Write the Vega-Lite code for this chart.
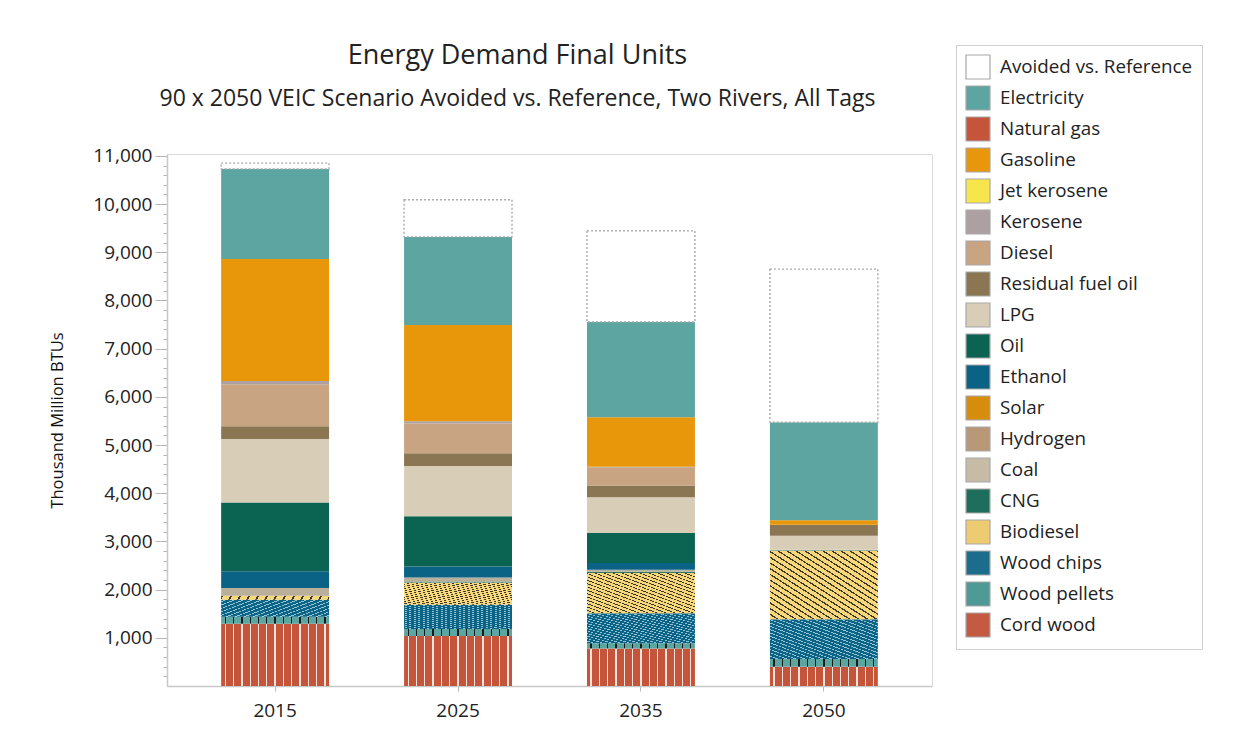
{
  "$schema": "https://vega.github.io/schema/vega-lite/v6.json",
  "autosize": {"type": "none"},
  "width": 765,
  "height": 532,
  "padding": {"left": 167, "top": 154, "right": 320, "bottom": 62},
  "background": "#ffffff",
  "config": {
    "font": "Open Sans",
    "view": {"stroke": "#dadada", "strokeWidth": 1}
  },
  "title": {
    "text": "Energy Demand Final Units",
    "subtitle": "90 x 2050 VEIC Scenario Avoided vs. Reference, Two Rivers, All Tags",
    "font": "Open Sans",
    "subtitleFont": "Open Sans",
    "fontSize": 27,
    "subtitleFontSize": 23,
    "fontWeight": "normal",
    "color": "#222222",
    "subtitleColor": "#222222",
    "anchor": "middle",
    "dx": -32,
    "offset": -67,
    "subtitlePadding": 18
  },
  "data": {
    "values": [
      {"year": "2015", "fuel": "Cord wood", "value": 1290},
      {"year": "2015", "fuel": "Wood pellets", "value": 145},
      {"year": "2015", "fuel": "Wood chips", "value": 353},
      {"year": "2015", "fuel": "Biodiesel", "value": 85},
      {"year": "2015", "fuel": "Coal", "value": 160},
      {"year": "2015", "fuel": "Ethanol", "value": 347},
      {"year": "2015", "fuel": "Oil", "value": 1428},
      {"year": "2015", "fuel": "LPG", "value": 1317},
      {"year": "2015", "fuel": "Residual fuel oil", "value": 263},
      {"year": "2015", "fuel": "Diesel", "value": 873},
      {"year": "2015", "fuel": "Kerosene", "value": 70},
      {"year": "2015", "fuel": "Gasoline", "value": 2530},
      {"year": "2015", "fuel": "Electricity", "value": 1871},
      {"year": "2015", "fuel": "Avoided vs. Reference", "value": 118},
      {"year": "2025", "fuel": "Cord wood", "value": 1040},
      {"year": "2025", "fuel": "Wood pellets", "value": 145},
      {"year": "2025", "fuel": "Wood chips", "value": 499},
      {"year": "2025", "fuel": "Biodiesel", "value": 464},
      {"year": "2025", "fuel": "CNG", "value": 21},
      {"year": "2025", "fuel": "Coal", "value": 83},
      {"year": "2025", "fuel": "Ethanol", "value": 229},
      {"year": "2025", "fuel": "Oil", "value": 1040},
      {"year": "2025", "fuel": "LPG", "value": 1046},
      {"year": "2025", "fuel": "Residual fuel oil", "value": 263},
      {"year": "2025", "fuel": "Diesel", "value": 617},
      {"year": "2025", "fuel": "Kerosene", "value": 48},
      {"year": "2025", "fuel": "Gasoline", "value": 1996},
      {"year": "2025", "fuel": "Electricity", "value": 1830},
      {"year": "2025", "fuel": "Avoided vs. Reference", "value": 769},
      {"year": "2035", "fuel": "Cord wood", "value": 776},
      {"year": "2035", "fuel": "Wood pellets", "value": 111},
      {"year": "2035", "fuel": "Wood chips", "value": 624},
      {"year": "2035", "fuel": "Biodiesel", "value": 832},
      {"year": "2035", "fuel": "CNG", "value": 30},
      {"year": "2035", "fuel": "Coal", "value": 40},
      {"year": "2035", "fuel": "Ethanol", "value": 139},
      {"year": "2035", "fuel": "Oil", "value": 624},
      {"year": "2035", "fuel": "LPG", "value": 742},
      {"year": "2035", "fuel": "Residual fuel oil", "value": 243},
      {"year": "2035", "fuel": "Diesel", "value": 381},
      {"year": "2035", "fuel": "Kerosene", "value": 10},
      {"year": "2035", "fuel": "Gasoline", "value": 1027},
      {"year": "2035", "fuel": "Electricity", "value": 1975},
      {"year": "2035", "fuel": "Avoided vs. Reference", "value": 1890},
      {"year": "2050", "fuel": "Cord wood", "value": 401},
      {"year": "2050", "fuel": "Wood pellets", "value": 160},
      {"year": "2050", "fuel": "Wood chips", "value": 825},
      {"year": "2050", "fuel": "Biodiesel", "value": 1421},
      {"year": "2050", "fuel": "CNG", "value": 10},
      {"year": "2050", "fuel": "Coal", "value": 11},
      {"year": "2050", "fuel": "LPG", "value": 291},
      {"year": "2050", "fuel": "Residual fuel oil", "value": 229},
      {"year": "2050", "fuel": "Gasoline", "value": 90},
      {"year": "2050", "fuel": "Electricity", "value": 2037},
      {"year": "2050", "fuel": "Avoided vs. Reference", "value": 3175}
    ]
  },
  "transform": [
    {
      "lookup": "fuel",
      "from": {
        "data": {
          "values": [
            {"fuel": "Cord wood", "rank": 1},
            {"fuel": "Wood pellets", "rank": 2},
            {"fuel": "Wood chips", "rank": 3},
            {"fuel": "Biodiesel", "rank": 4},
            {"fuel": "CNG", "rank": 5},
            {"fuel": "Coal", "rank": 6},
            {"fuel": "Hydrogen", "rank": 7},
            {"fuel": "Solar", "rank": 8},
            {"fuel": "Ethanol", "rank": 9},
            {"fuel": "Oil", "rank": 10},
            {"fuel": "LPG", "rank": 11},
            {"fuel": "Residual fuel oil", "rank": 12},
            {"fuel": "Diesel", "rank": 13},
            {"fuel": "Kerosene", "rank": 14},
            {"fuel": "Jet kerosene", "rank": 15},
            {"fuel": "Gasoline", "rank": 16},
            {"fuel": "Natural gas", "rank": 17},
            {"fuel": "Electricity", "rank": 18},
            {"fuel": "Avoided vs. Reference", "rank": 19}
          ]
        },
        "key": "fuel",
        "fields": ["rank"]
      }
    }
  ],
  "mark": {"type": "bar", "strokeWidth": 1.4},
  "encoding": {
    "x": {
      "field": "year",
      "type": "ordinal",
      "scale": {"paddingInner": 0.41, "paddingOuter": 0.296},
      "axis": {
        "title": null,
        "labelAngle": 0,
        "labelFont": "Open Sans",
        "labelFontSize": 19,
        "labelColor": "#222222",
        "labelPadding": 10,
        "tickSize": 5,
        "tickColor": "#b8b8b8",
        "domainColor": "#c8c8c8",
        "domainWidth": 1.5
      }
    },
    "y": {
      "field": "value",
      "type": "quantitative",
      "stack": "zero",
      "scale": {"domain": [0, 11040], "nice": false, "zero": true},
      "axis": {
        "title": "Thousand Million BTUs",
        "titleFont": "Open Sans",
        "titleFontSize": 16.5,
        "titleFontWeight": "normal",
        "titleColor": "#111111",
        "titlePadding": 27,
        "values": [200, 400, 600, 800, 1000, 1200, 1400, 1600, 1800, 2000, 2200, 2400, 2600, 2800, 3000, 3200, 3400, 3600, 3800, 4000, 4200, 4400, 4600, 4800, 5000, 5200, 5400, 5600, 5800, 6000, 6200, 6400, 6600, 6800, 7000, 7200, 7400, 7600, 7800, 8000, 8200, 8400, 8600, 8800, 9000, 9200, 9400, 9600, 9800, 10000, 10200, 10400, 10600, 10800, 11000],
        "labelExpr": "datum.value % 1000 === 0 ? format(datum.value, ',') : ''",
        "labelFont": "Open Sans",
        "labelFontSize": 19,
        "labelColor": "#222222",
        "labelPadding": 3,
        "tickSize": {"condition": {"test": "datum.value % 1000 === 0", "value": 12}, "value": 4},
        "tickColor": "#b4b4b4",
        "domainColor": "#c8c8c8",
        "domainWidth": 1.5,
        "grid": false
      }
    },
    "order": {"field": "rank", "type": "quantitative", "sort": "ascending"},
    "fill": {
      "condition": [
        {"test": "datum.fuel === 'Coal'", "value": "#B9AF9B"},
        {"test": "datum.fuel === 'CNG'", "value": "#2E7868"},
        {"test": "datum.fuel === 'Cord wood'", "value": {"gradient": "linear", "x1": 0, "y1": 0, "x2": 1, "y2": 0, "stops": [
          {"offset": 0, "color": "#C5553A"}, {"offset": 0.0323, "color": "#C5553A"}, {"offset": 0.0323, "color": "#F7E3DD"}, {"offset": 0.0446, "color": "#F7E3DD"},
          {"offset": 0.0446, "color": "#C5553A"}, {"offset": 0.1092, "color": "#C5553A"}, {"offset": 0.1092, "color": "#F7E3DD"}, {"offset": 0.1215, "color": "#F7E3DD"},
          {"offset": 0.1215, "color": "#C5553A"}, {"offset": 0.1862, "color": "#C5553A"}, {"offset": 0.1862, "color": "#F7E3DD"}, {"offset": 0.1985, "color": "#F7E3DD"},
          {"offset": 0.1985, "color": "#C5553A"}, {"offset": 0.2631, "color": "#C5553A"}, {"offset": 0.2631, "color": "#F7E3DD"}, {"offset": 0.2754, "color": "#F7E3DD"},
          {"offset": 0.2754, "color": "#C5553A"}, {"offset": 0.34, "color": "#C5553A"}, {"offset": 0.34, "color": "#F7E3DD"}, {"offset": 0.3523, "color": "#F7E3DD"},
          {"offset": 0.3523, "color": "#C5553A"}, {"offset": 0.4169, "color": "#C5553A"}, {"offset": 0.4169, "color": "#F7E3DD"}, {"offset": 0.4292, "color": "#F7E3DD"},
          {"offset": 0.4292, "color": "#C5553A"}, {"offset": 0.4938, "color": "#C5553A"}, {"offset": 0.4938, "color": "#F7E3DD"}, {"offset": 0.5061, "color": "#F7E3DD"},
          {"offset": 0.5061, "color": "#C5553A"}, {"offset": 0.5708, "color": "#C5553A"}, {"offset": 0.5708, "color": "#F7E3DD"}, {"offset": 0.5831, "color": "#F7E3DD"},
          {"offset": 0.5831, "color": "#C5553A"}, {"offset": 0.6477, "color": "#C5553A"}, {"offset": 0.6477, "color": "#F7E3DD"}, {"offset": 0.66, "color": "#F7E3DD"},
          {"offset": 0.66, "color": "#C5553A"}, {"offset": 0.7246, "color": "#C5553A"}, {"offset": 0.7246, "color": "#F7E3DD"}, {"offset": 0.7369, "color": "#F7E3DD"},
          {"offset": 0.7369, "color": "#C5553A"}, {"offset": 0.8015, "color": "#C5553A"}, {"offset": 0.8015, "color": "#F7E3DD"}, {"offset": 0.8138, "color": "#F7E3DD"},
          {"offset": 0.8138, "color": "#C5553A"}, {"offset": 0.8785, "color": "#C5553A"}, {"offset": 0.8785, "color": "#F7E3DD"}, {"offset": 0.8908, "color": "#F7E3DD"},
          {"offset": 0.8908, "color": "#C5553A"}, {"offset": 0.9554, "color": "#C5553A"}, {"offset": 0.9554, "color": "#F7E3DD"}, {"offset": 0.9677, "color": "#F7E3DD"},
          {"offset": 0.9677, "color": "#C5553A"}, {"offset": 1, "color": "#C5553A"}
        ]}},
        {"test": "datum.fuel === 'Wood pellets'", "value": {"gradient": "linear", "x1": 0, "y1": 0, "x2": 1, "y2": 0, "stops": [
          {"offset": 0, "color": "#5BA6A1"}, {"offset": 0.0323, "color": "#5BA6A1"}, {"offset": 0.0323, "color": "#1A1A1A"}, {"offset": 0.0446, "color": "#1A1A1A"},
          {"offset": 0.0446, "color": "#5BA6A1"}, {"offset": 0.1092, "color": "#5BA6A1"}, {"offset": 0.1092, "color": "#1A1A1A"}, {"offset": 0.1215, "color": "#1A1A1A"},
          {"offset": 0.1215, "color": "#5BA6A1"}, {"offset": 0.1862, "color": "#5BA6A1"}, {"offset": 0.1862, "color": "#1A1A1A"}, {"offset": 0.1985, "color": "#1A1A1A"},
          {"offset": 0.1985, "color": "#5BA6A1"}, {"offset": 0.2631, "color": "#5BA6A1"}, {"offset": 0.2631, "color": "#1A1A1A"}, {"offset": 0.2754, "color": "#1A1A1A"},
          {"offset": 0.2754, "color": "#5BA6A1"}, {"offset": 0.34, "color": "#5BA6A1"}, {"offset": 0.34, "color": "#1A1A1A"}, {"offset": 0.3523, "color": "#1A1A1A"},
          {"offset": 0.3523, "color": "#5BA6A1"}, {"offset": 0.4169, "color": "#5BA6A1"}, {"offset": 0.4169, "color": "#1A1A1A"}, {"offset": 0.4292, "color": "#1A1A1A"},
          {"offset": 0.4292, "color": "#5BA6A1"}, {"offset": 0.4938, "color": "#5BA6A1"}, {"offset": 0.4938, "color": "#1A1A1A"}, {"offset": 0.5061, "color": "#1A1A1A"},
          {"offset": 0.5061, "color": "#5BA6A1"}, {"offset": 0.5708, "color": "#5BA6A1"}, {"offset": 0.5708, "color": "#1A1A1A"}, {"offset": 0.5831, "color": "#1A1A1A"},
          {"offset": 0.5831, "color": "#5BA6A1"}, {"offset": 0.6477, "color": "#5BA6A1"}, {"offset": 0.6477, "color": "#1A1A1A"}, {"offset": 0.66, "color": "#1A1A1A"},
          {"offset": 0.66, "color": "#5BA6A1"}, {"offset": 0.7246, "color": "#5BA6A1"}, {"offset": 0.7246, "color": "#1A1A1A"}, {"offset": 0.7369, "color": "#1A1A1A"},
          {"offset": 0.7369, "color": "#5BA6A1"}, {"offset": 0.8015, "color": "#5BA6A1"}, {"offset": 0.8015, "color": "#1A1A1A"}, {"offset": 0.8138, "color": "#1A1A1A"},
          {"offset": 0.8138, "color": "#5BA6A1"}, {"offset": 0.8785, "color": "#5BA6A1"}, {"offset": 0.8785, "color": "#1A1A1A"}, {"offset": 0.8908, "color": "#1A1A1A"},
          {"offset": 0.8908, "color": "#5BA6A1"}, {"offset": 0.9554, "color": "#5BA6A1"}, {"offset": 0.9554, "color": "#1A1A1A"}, {"offset": 0.9677, "color": "#1A1A1A"},
          {"offset": 0.9677, "color": "#5BA6A1"}, {"offset": 1, "color": "#5BA6A1"}
        ]}},
        {"test": "datum.fuel === 'Wood chips'", "value": {"gradient": "linear", "x1": 0, "y1": 1, "x2": 1, "y2": 0, "stops": [
          {"offset": 0, "color": "#0B6385"}, {"offset": 0.0313, "color": "#0B6385"}, {"offset": 0.0313, "color": "#93C4D5"}, {"offset": 0.0417, "color": "#93C4D5"},
          {"offset": 0.0417, "color": "#0B6385"}, {"offset": 0.0729, "color": "#0B6385"}, {"offset": 0.0729, "color": "#93C4D5"}, {"offset": 0.0833, "color": "#93C4D5"},
          {"offset": 0.0833, "color": "#0B6385"}, {"offset": 0.1146, "color": "#0B6385"}, {"offset": 0.1146, "color": "#93C4D5"}, {"offset": 0.125, "color": "#93C4D5"},
          {"offset": 0.125, "color": "#0B6385"}, {"offset": 0.1563, "color": "#0B6385"}, {"offset": 0.1563, "color": "#93C4D5"}, {"offset": 0.1667, "color": "#93C4D5"},
          {"offset": 0.1667, "color": "#0B6385"}, {"offset": 0.1979, "color": "#0B6385"}, {"offset": 0.1979, "color": "#93C4D5"}, {"offset": 0.2083, "color": "#93C4D5"},
          {"offset": 0.2083, "color": "#0B6385"}, {"offset": 0.2396, "color": "#0B6385"}, {"offset": 0.2396, "color": "#93C4D5"}, {"offset": 0.25, "color": "#93C4D5"},
          {"offset": 0.25, "color": "#0B6385"}, {"offset": 0.2813, "color": "#0B6385"}, {"offset": 0.2813, "color": "#93C4D5"}, {"offset": 0.2917, "color": "#93C4D5"},
          {"offset": 0.2917, "color": "#0B6385"}, {"offset": 0.3229, "color": "#0B6385"}, {"offset": 0.3229, "color": "#93C4D5"}, {"offset": 0.3333, "color": "#93C4D5"},
          {"offset": 0.3333, "color": "#0B6385"}, {"offset": 0.3646, "color": "#0B6385"}, {"offset": 0.3646, "color": "#93C4D5"}, {"offset": 0.375, "color": "#93C4D5"},
          {"offset": 0.375, "color": "#0B6385"}, {"offset": 0.4063, "color": "#0B6385"}, {"offset": 0.4063, "color": "#93C4D5"}, {"offset": 0.4167, "color": "#93C4D5"},
          {"offset": 0.4167, "color": "#0B6385"}, {"offset": 0.4479, "color": "#0B6385"}, {"offset": 0.4479, "color": "#93C4D5"}, {"offset": 0.4583, "color": "#93C4D5"},
          {"offset": 0.4583, "color": "#0B6385"}, {"offset": 0.4896, "color": "#0B6385"}, {"offset": 0.4896, "color": "#93C4D5"}, {"offset": 0.5, "color": "#93C4D5"},
          {"offset": 0.5, "color": "#0B6385"}, {"offset": 0.5313, "color": "#0B6385"}, {"offset": 0.5313, "color": "#93C4D5"}, {"offset": 0.5417, "color": "#93C4D5"},
          {"offset": 0.5417, "color": "#0B6385"}, {"offset": 0.5729, "color": "#0B6385"}, {"offset": 0.5729, "color": "#93C4D5"}, {"offset": 0.5833, "color": "#93C4D5"},
          {"offset": 0.5833, "color": "#0B6385"}, {"offset": 0.6146, "color": "#0B6385"}, {"offset": 0.6146, "color": "#93C4D5"}, {"offset": 0.625, "color": "#93C4D5"},
          {"offset": 0.625, "color": "#0B6385"}, {"offset": 0.6563, "color": "#0B6385"}, {"offset": 0.6563, "color": "#93C4D5"}, {"offset": 0.6667, "color": "#93C4D5"},
          {"offset": 0.6667, "color": "#0B6385"}, {"offset": 0.6979, "color": "#0B6385"}, {"offset": 0.6979, "color": "#93C4D5"}, {"offset": 0.7083, "color": "#93C4D5"},
          {"offset": 0.7083, "color": "#0B6385"}, {"offset": 0.7396, "color": "#0B6385"}, {"offset": 0.7396, "color": "#93C4D5"}, {"offset": 0.75, "color": "#93C4D5"},
          {"offset": 0.75, "color": "#0B6385"}, {"offset": 0.7813, "color": "#0B6385"}, {"offset": 0.7813, "color": "#93C4D5"}, {"offset": 0.7917, "color": "#93C4D5"},
          {"offset": 0.7917, "color": "#0B6385"}, {"offset": 0.8229, "color": "#0B6385"}, {"offset": 0.8229, "color": "#93C4D5"}, {"offset": 0.8333, "color": "#93C4D5"},
          {"offset": 0.8333, "color": "#0B6385"}, {"offset": 0.8646, "color": "#0B6385"}, {"offset": 0.8646, "color": "#93C4D5"}, {"offset": 0.875, "color": "#93C4D5"},
          {"offset": 0.875, "color": "#0B6385"}, {"offset": 0.9063, "color": "#0B6385"}, {"offset": 0.9063, "color": "#93C4D5"}, {"offset": 0.9167, "color": "#93C4D5"},
          {"offset": 0.9167, "color": "#0B6385"}, {"offset": 0.9479, "color": "#0B6385"}, {"offset": 0.9479, "color": "#93C4D5"}, {"offset": 0.9583, "color": "#93C4D5"},
          {"offset": 0.9583, "color": "#0B6385"}, {"offset": 0.9896, "color": "#0B6385"}, {"offset": 0.9896, "color": "#93C4D5"}, {"offset": 1, "color": "#93C4D5"}
        ]}},
        {"test": "datum.fuel === 'Biodiesel'", "value": {"gradient": "linear", "x1": 0, "y1": 1, "x2": 1, "y2": 0, "stops": [
          {"offset": 0, "color": "#F8D67A"}, {"offset": 0.0313, "color": "#F8D67A"}, {"offset": 0.0313, "color": "#3A3628"}, {"offset": 0.0417, "color": "#3A3628"},
          {"offset": 0.0417, "color": "#F8D67A"}, {"offset": 0.0729, "color": "#F8D67A"}, {"offset": 0.0729, "color": "#3A3628"}, {"offset": 0.0833, "color": "#3A3628"},
          {"offset": 0.0833, "color": "#F8D67A"}, {"offset": 0.1146, "color": "#F8D67A"}, {"offset": 0.1146, "color": "#3A3628"}, {"offset": 0.125, "color": "#3A3628"},
          {"offset": 0.125, "color": "#F8D67A"}, {"offset": 0.1563, "color": "#F8D67A"}, {"offset": 0.1563, "color": "#3A3628"}, {"offset": 0.1667, "color": "#3A3628"},
          {"offset": 0.1667, "color": "#F8D67A"}, {"offset": 0.1979, "color": "#F8D67A"}, {"offset": 0.1979, "color": "#3A3628"}, {"offset": 0.2083, "color": "#3A3628"},
          {"offset": 0.2083, "color": "#F8D67A"}, {"offset": 0.2396, "color": "#F8D67A"}, {"offset": 0.2396, "color": "#3A3628"}, {"offset": 0.25, "color": "#3A3628"},
          {"offset": 0.25, "color": "#F8D67A"}, {"offset": 0.2813, "color": "#F8D67A"}, {"offset": 0.2813, "color": "#3A3628"}, {"offset": 0.2917, "color": "#3A3628"},
          {"offset": 0.2917, "color": "#F8D67A"}, {"offset": 0.3229, "color": "#F8D67A"}, {"offset": 0.3229, "color": "#3A3628"}, {"offset": 0.3333, "color": "#3A3628"},
          {"offset": 0.3333, "color": "#F8D67A"}, {"offset": 0.3646, "color": "#F8D67A"}, {"offset": 0.3646, "color": "#3A3628"}, {"offset": 0.375, "color": "#3A3628"},
          {"offset": 0.375, "color": "#F8D67A"}, {"offset": 0.4063, "color": "#F8D67A"}, {"offset": 0.4063, "color": "#3A3628"}, {"offset": 0.4167, "color": "#3A3628"},
          {"offset": 0.4167, "color": "#F8D67A"}, {"offset": 0.4479, "color": "#F8D67A"}, {"offset": 0.4479, "color": "#3A3628"}, {"offset": 0.4583, "color": "#3A3628"},
          {"offset": 0.4583, "color": "#F8D67A"}, {"offset": 0.4896, "color": "#F8D67A"}, {"offset": 0.4896, "color": "#3A3628"}, {"offset": 0.5, "color": "#3A3628"},
          {"offset": 0.5, "color": "#F8D67A"}, {"offset": 0.5313, "color": "#F8D67A"}, {"offset": 0.5313, "color": "#3A3628"}, {"offset": 0.5417, "color": "#3A3628"},
          {"offset": 0.5417, "color": "#F8D67A"}, {"offset": 0.5729, "color": "#F8D67A"}, {"offset": 0.5729, "color": "#3A3628"}, {"offset": 0.5833, "color": "#3A3628"},
          {"offset": 0.5833, "color": "#F8D67A"}, {"offset": 0.6146, "color": "#F8D67A"}, {"offset": 0.6146, "color": "#3A3628"}, {"offset": 0.625, "color": "#3A3628"},
          {"offset": 0.625, "color": "#F8D67A"}, {"offset": 0.6563, "color": "#F8D67A"}, {"offset": 0.6563, "color": "#3A3628"}, {"offset": 0.6667, "color": "#3A3628"},
          {"offset": 0.6667, "color": "#F8D67A"}, {"offset": 0.6979, "color": "#F8D67A"}, {"offset": 0.6979, "color": "#3A3628"}, {"offset": 0.7083, "color": "#3A3628"},
          {"offset": 0.7083, "color": "#F8D67A"}, {"offset": 0.7396, "color": "#F8D67A"}, {"offset": 0.7396, "color": "#3A3628"}, {"offset": 0.75, "color": "#3A3628"},
          {"offset": 0.75, "color": "#F8D67A"}, {"offset": 0.7813, "color": "#F8D67A"}, {"offset": 0.7813, "color": "#3A3628"}, {"offset": 0.7917, "color": "#3A3628"},
          {"offset": 0.7917, "color": "#F8D67A"}, {"offset": 0.8229, "color": "#F8D67A"}, {"offset": 0.8229, "color": "#3A3628"}, {"offset": 0.8333, "color": "#3A3628"},
          {"offset": 0.8333, "color": "#F8D67A"}, {"offset": 0.8646, "color": "#F8D67A"}, {"offset": 0.8646, "color": "#3A3628"}, {"offset": 0.875, "color": "#3A3628"},
          {"offset": 0.875, "color": "#F8D67A"}, {"offset": 0.9063, "color": "#F8D67A"}, {"offset": 0.9063, "color": "#3A3628"}, {"offset": 0.9167, "color": "#3A3628"},
          {"offset": 0.9167, "color": "#F8D67A"}, {"offset": 0.9479, "color": "#F8D67A"}, {"offset": 0.9479, "color": "#3A3628"}, {"offset": 0.9583, "color": "#3A3628"},
          {"offset": 0.9583, "color": "#F8D67A"}, {"offset": 0.9896, "color": "#F8D67A"}, {"offset": 0.9896, "color": "#3A3628"}, {"offset": 1, "color": "#3A3628"}
        ]}}
      ],
      "field": "fuel",
      "type": "nominal",
      "sort": ["Avoided vs. Reference", "Electricity", "Natural gas", "Gasoline", "Jet kerosene", "Kerosene", "Diesel", "Residual fuel oil", "LPG", "Oil", "Ethanol", "Solar", "Hydrogen", "Coal", "CNG", "Biodiesel", "Wood chips", "Wood pellets", "Cord wood"],
      "scale": {
        "domain": ["Avoided vs. Reference", "Electricity", "Natural gas", "Gasoline", "Jet kerosene", "Kerosene", "Diesel", "Residual fuel oil", "LPG", "Oil", "Ethanol", "Solar", "Hydrogen", "Coal", "CNG", "Biodiesel", "Wood chips", "Wood pellets", "Cord wood"],
        "range": ["#FFFFFF", "#5DA5A1", "#C5553A", "#E8970A", "#F6E64B", "#ADA0A3", "#C8A482", "#8B7653", "#D8CEB7", "#0B6451", "#0A6385", "#D68C0C", "#B99877", "#C6BCA6", "#1E6E5C", "#EDCB70", "#1C6D8C", "#4F9A95", "#C45A41"]
      },
      "legend": {
        "title": null,
        "orient": "none",
        "legendX": 789,
        "legendY": -109,
        "symbolType": "square",
        "symbolSize": 576,
        "symbolStrokeColor": "#a8a8a8",
        "symbolStrokeWidth": 1.2,
        "labelFont": "Open Sans",
        "labelFontSize": 18.8,
        "labelColor": "#222222",
        "labelOffset": 9,
        "labelLimit": 300,
        "rowPadding": 1,
        "padding": 9,
        "strokeColor": "#cfcfcf",
        "fillColor": "#ffffff",
        "encode": {
          "symbols": {
            "update": {
              "stroke": {"value": "#a8a8a8"},
              "strokeWidth": {"value": 1.2}
            }
          }
        }
      }
    },
    "stroke": {
      "condition": {"test": "datum.fuel === 'Avoided vs. Reference'", "value": "#a9a9a9"},
      "value": null
    },
    "strokeDash": {
      "condition": {"test": "datum.fuel === 'Avoided vs. Reference'", "value": [2, 2]},
      "value": [1, 0]
    }
  }
}
